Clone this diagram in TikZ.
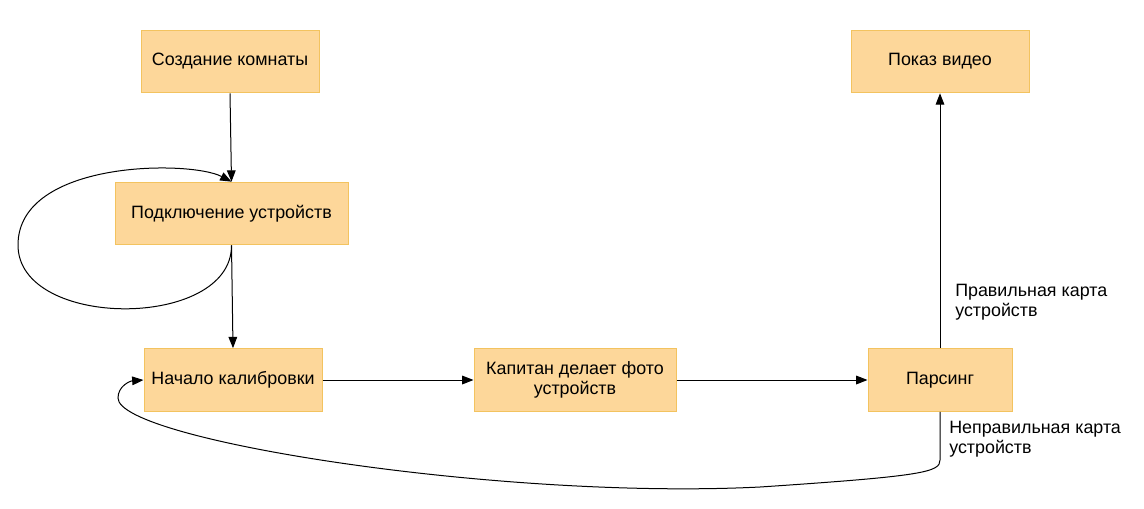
\documentclass[tikz,border=0pt]{standalone}
\usepackage{fontspec}
\setmainfont{Liberation Sans}
\usetikzlibrary{arrows.meta}
\definecolor{boxfill}{HTML}{FDD79A}
\definecolor{boxline}{HTML}{F3C35F}

\begin{document}
\begin{tikzpicture}[x=0.75pt,y=-0.75pt,
every node/.style={font=\fontsize{13.4}{14.6}\selectfont},
stage/.style={draw=boxline,fill=boxfill,line width=0.75pt,inner sep=0pt,align=center,minimum height=47pt},
flow/.style={-{Triangle[length=8.5pt,width=6.5pt]},line width=0.75pt},
note/.style={anchor=west,align=left,inner sep=0pt}]
\useasboundingbox (0,0) rectangle (1144,508);

%stages of the calibration
\node[stage,minimum width=133.5pt](room) at (230,61.5) {Создание комнаты};
\node[stage,minimum width=174.75pt](conn) at (231.5,213.5) {Подключение устройств};
\node[stage,minimum width=133.5pt](calib) at (233,380) {Начало калибровки};
\node[stage,minimum width=151.5pt](photo) at (575,380) {Капитан делает фото\\устройств};
\node[stage,minimum width=108pt](parse) at (940,380) {Парсинг};
\node[stage,minimum width=133.5pt](video) at (940,61.5) {Показ видео};

%straight steps
\draw[flow] (room.south) -- (conn.north);
\draw[flow] (conn.south) -- (calib.north);
\draw[flow] (calib.east) -- (photo.west);
\draw[flow] (photo.east) -- (parse.west);
\draw[flow] (parse.north) -- (video.south);
\node[note](right) at (955,302) {Правильная карта\\устройств};

%loop back to connecting
\draw[flow] (conn.south) .. controls (232,330) and (18,330) .. (18,245)
  .. controls (18,160) and (190,160) .. (conn.north);

%wrong map: back to calibration
\draw[flow] (parse.south) -- (940,460) .. controls (940,472) and (925,476) .. (760,487)
  .. controls (500,500) and (118,440) .. (118,398)
  .. controls (118,386) and (130,381) .. (calib.west);
\node[note](wrong) at (949,439) {Неправильная карта\\устройств};
\end{tikzpicture}
\end{document}
